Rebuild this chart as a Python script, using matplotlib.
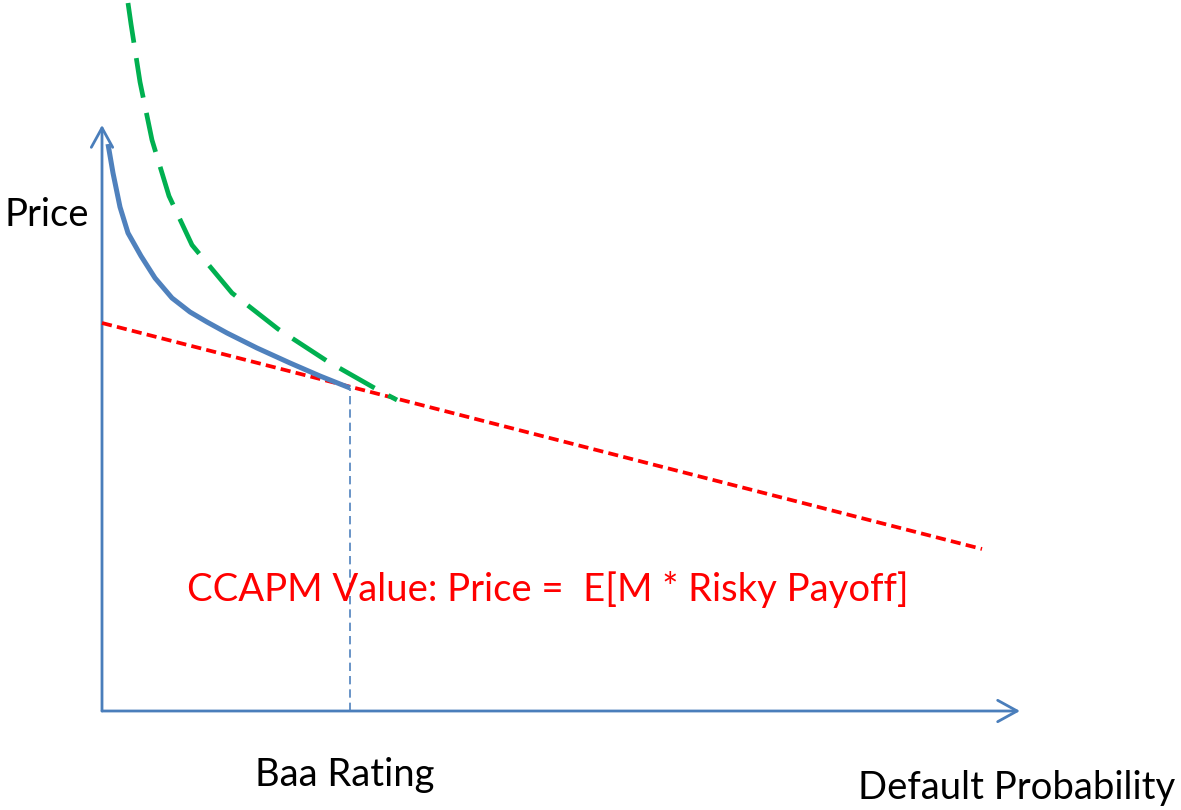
import matplotlib.pyplot as plt
from matplotlib.patches import FancyArrowPatch

# Diagram coordinates: origin at the axes corner (pixels)
blue_x = [6, 11, 18, 26, 39, 53, 70, 88, 105, 125, 155, 188, 218, 248]
blue_y = [567, 538, 504, 478, 455, 433, 413, 399, 389, 378, 363, 348, 335, 323]

green_x = [26, 29, 38, 50, 67, 90, 130, 176, 225, 276, 295]
green_y = [708, 687, 629, 571, 515, 466, 418, 382, 350, 321, 311]

red_x = [0, 880]
red_y = [388, 162]

baa_x = 248
baa_top = 323

x_axis_end = 918
y_axis_end = 586

axis_col = '#4a7ebb'
plt.rcParams['font.family'] = ['Lato', 'DejaVu Sans']

fig = plt.figure(figsize=(11.81, 8.10), dpi=100)
ax = fig.add_axes([0, 0, 1, 1])
ax.set_xlim(-102, 1079)
ax.set_ylim(-99, 711)
ax.axis('off')

# axes arrows
for end in [(x_axis_end, 0), (0, y_axis_end)]:
    ax.add_patch(FancyArrowPatch((0, 0), end, arrowstyle='->,head_length=1.0,head_width=0.55',
                                 mutation_scale=14, color=axis_col, lw=2.0,
                                 shrinkA=0, shrinkB=0))

ax.plot(red_x, red_y, color='#ff0000', lw=2.7, dashes=(2.7, 1.4))
ax.plot(green_x, green_y, color='#00b050', lw=3.4, dashes=(8.5, 3.3), clip_on=False)
ax.plot(blue_x, blue_y, color='#4f81bd', lw=3.6, solid_capstyle='butt', solid_joinstyle='round')
ax.plot([baa_x, baa_x], [0, baa_top], color='#4f81bd', lw=1.2, dashes=(5, 3))

fs = 27.5
ax.text(-97, 496, 'Price', fontsize=fs, va='center', ha='left')
ax.text(243, -64, 'Baa Rating', fontsize=fs, va='center', ha='center')
ax.text(756, -77, 'Default Probability', fontsize=fs, va='center', ha='left')
ax.text(85, 121, 'CCAPM Value: Price =  E[M * Risky Payoff]', fontsize=fs,
        va='center', ha='left', color='#ff0000')

fig.savefig('out.png', dpi=100)
